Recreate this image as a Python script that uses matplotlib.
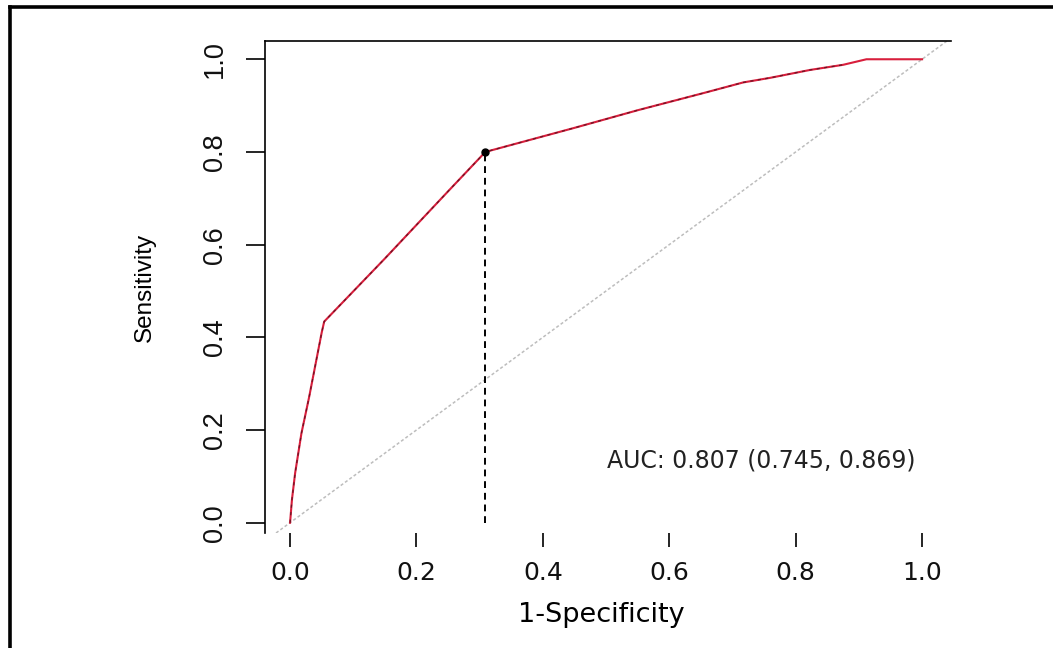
import matplotlib
matplotlib.use("Agg")
import matplotlib.pyplot as plt
from matplotlib.lines import Line2D

# ROC curve (x = 1 - specificity, y = sensitivity)
fpr = [0.0, 0.003, 0.008, 0.018, 0.030, 0.040, 0.050, 0.054, 0.15, 0.25,
       0.309, 0.45, 0.55, 0.654, 0.717, 0.76, 0.823, 0.875, 0.912, 1.0]
tpr = [0.0, 0.05, 0.107, 0.193, 0.27, 0.34, 0.41, 0.434, 0.57, 0.715,
       0.80, 0.852, 0.89, 0.927, 0.95, 0.96, 0.977, 0.988, 1.0, 1.0]

best_fpr = 0.309
best_tpr = 0.80

auc = 0.807
auc_lo = 0.745
auc_hi = 0.869

x_ticks = [0.0, 0.2, 0.4, 0.6, 0.8, 1.0]
y_ticks = [0.0, 0.2, 0.4, 0.6, 0.8, 1.0]

fig = plt.figure(figsize=(10.53, 6.48), dpi=100)
ax = fig.add_axes([0.2517, 0.1775, 0.6515, 0.7593])

ax.axline((0, 0), (1, 1), color="#bdbdbd", lw=1.1, linestyle=(0, (2, 1.5)))
ax.plot(fpr, tpr, color="#d81e3c", lw=1.5)
ax.plot(fpr[:-2], tpr[:-2], color="#6a1424", lw=0.9, linestyle=(0, (2.5, 3.5)))
ax.plot([best_fpr, best_fpr], [0, best_tpr], color="black", lw=1.4,
        linestyle=(0, (3.5, 2.5)))
ax.plot(best_fpr, best_tpr, "o", color="black", ms=5)

ax.text(0.745, 0.135, f"AUC: {auc:.3f} ({auc_lo:.3f}, {auc_hi:.3f})",
        ha="center", va="center", fontsize=17, family="DejaVu Sans",
        color="#222222")

ax.set_xlim(-0.0396, 1.0459)
ax.set_ylim(-0.0222, 1.0395)

for side in ["right", "bottom"]:
    ax.spines[side].set_visible(False)
for side in ["left", "top"]:
    ax.spines[side].set_linewidth(1.2)

ax.set_xticks(x_ticks)
ax.set_xticklabels([f"{v:.1f}" for v in x_ticks], family="DejaVu Sans",
                   fontsize=18, color="#111111")
ax.set_yticks(y_ticks)
ax.set_yticklabels([f"{v:.1f}" for v in y_ticks], family="Liberation Sans",
                   fontsize=19.5, rotation=90, va="center", color="#111111")
ax.tick_params(axis="x", length=10, width=1.2, pad=10)
ax.tick_params(axis="y", length=14, width=1.2, pad=13)

ax.set_xlabel("1-Specificity", family="DejaVu Sans", fontsize=19.5, va="center")
ax.xaxis.set_label_coords(0.49, -0.167)
ax.set_ylabel("Sensitivity", family="Liberation Sans", fontsize=17.5, va="center")
ax.yaxis.set_label_coords(-0.175, 0.5)

# outer frame of the picture (left and top edges)
fx = 9.5 / 1053
fy = 1 - 7 / 648
fig.add_artist(Line2D([fx, fx], [0, fy], transform=fig.transFigure,
                      color="black", lw=2.6))
fig.add_artist(Line2D([fx, 1], [fy, fy], transform=fig.transFigure,
                      color="black", lw=2.6))

fig.savefig("out.png", dpi=100)
